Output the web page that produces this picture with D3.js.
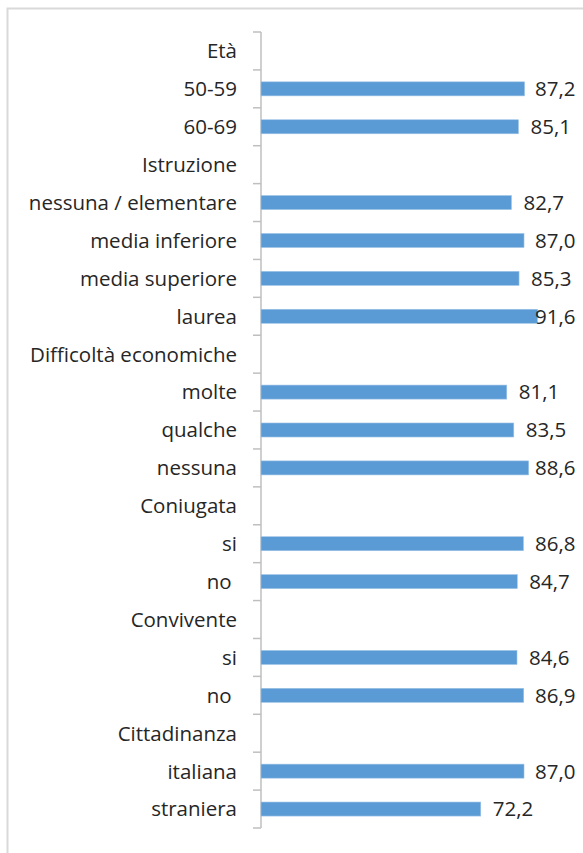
<!DOCTYPE html>
<html>
<head>
<meta charset="utf-8">
<script src="https://cdn.jsdelivr.net/npm/d3@7"></script>
<style>
  html, body { margin: 0; padding: 0; background: #fff; }
  svg { display: block; }
  text { white-space: pre; }
</style>
</head>
<body>
<svg id="chart" width="583" height="853"></svg>
<script>
// Categories (group headers have no value)
const categories = [
  "Età", "50-59", "60-69",
  "Istruzione", "nessuna / elementare", "media inferiore", "media superiore", "laurea",
  "Difficoltà economiche", "molte", "qualche", "nessuna",
  "Coniugata", "si", "no ",
  "Convivente", "si ", "no  ",
  "Cittadinanza", "italiana", "straniera"
];
const displayLabels = [
  "Età", "50-59", "60-69",
  "Istruzione", "nessuna / elementare", "media inferiore", "media superiore", "laurea",
  "Difficoltà economiche", "molte", "qualche", "nessuna",
  "Coniugata", "si", "no\u00a0",
  "Convivente", "si", "no\u00a0",
  "Cittadinanza", "italiana", "straniera"
];
const values = [
  null, 87.2, 85.1,
  null, 82.7, 87.0, 85.3, 91.6,
  null, 81.1, 83.5, 88.6,
  null, 86.8, 84.7,
  null, 84.6, 86.9,
  null, 87.0, 72.2
];

const data = categories.map((c, i) => ({ key: c, label: displayLabels[i], value: values[i] }));

const svg = d3.select("#chart");
const W = 583, H = 853;

// chart frame (only top and left edges visible)
svg.append("rect")
  .attr("x", 7.5).attr("y", 8.5)
  .attr("width", W + 10).attr("height", H + 10)
  .attr("fill", "#fff")
  .attr("stroke", "#d9d9d9").attr("stroke-width", 2);

const axisX = 261;
const y = d3.scaleBand().domain(categories).range([32, 828]).paddingInner(0.63).paddingOuter(0.315);
const x = d3.scaleLinear().domain([-3, 100]).range([axisX, 562]);

const font = "'Open Sans', sans-serif";
const fs = 20.5;

// axis with ticks between categories
const axisG = svg.append("g").attr("transform", `translate(${axisX},0)`);
const [r0, r1] = y.range();
const tickYs = d3.range(categories.length + 1).map(i => r0 + i * ((r1 - r0) / categories.length));
axisG.append("line")
  .attr("x1", 0).attr("x2", 0)
  .attr("y1", tickYs[0]).attr("y2", tickYs[tickYs.length - 1])
  .attr("stroke", "#bfbfbf").attr("stroke-width", 1.5);
axisG.selectAll("line.tick").data(tickYs).join("line")
  .attr("class", "tick")
  .attr("x1", -8).attr("x2", 0)
  .attr("y1", d => d).attr("y2", d => d)
  .attr("stroke", "#bfbfbf").attr("stroke-width", 1.5);

// category labels
svg.append("g").selectAll("text").data(data).join("text")
  .attr("x", axisX - 24)
  .attr("y", d => y(d.key) + y.bandwidth() / 2)
  .attr("dy", "0.36em")
  .attr("text-anchor", "end")
  .attr("font-family", font)
  .attr("font-size", fs)
  .attr("fill", "#262626")
  .text(d => d.label);

const withVals = data.filter(d => d.value != null);

// bars
svg.append("g").selectAll("rect").data(withVals).join("rect")
  .attr("x", x.range()[0])
  .attr("y", d => y(d.key))
  .attr("width", d => x(d.value) - x.range()[0])
  .attr("height", y.bandwidth())
  .attr("fill", "#5b9bd5")
  .attr("stroke", "#9dc3e6").attr("stroke-width", 0.6);

// value labels
const fmt = v => v.toFixed(1).replace(".", ",");
svg.append("g").selectAll("text").data(withVals).join("text")
  .attr("x", d => Math.min(x(d.value) + 12, 535))
  .attr("y", d => y(d.key) + y.bandwidth() / 2)
  .attr("dy", "0.36em")
  .attr("font-family", font)
  .attr("font-size", fs)
  .attr("fill", "#262626")
  .text(d => fmt(d.value));
</script>
</body>
</html>
